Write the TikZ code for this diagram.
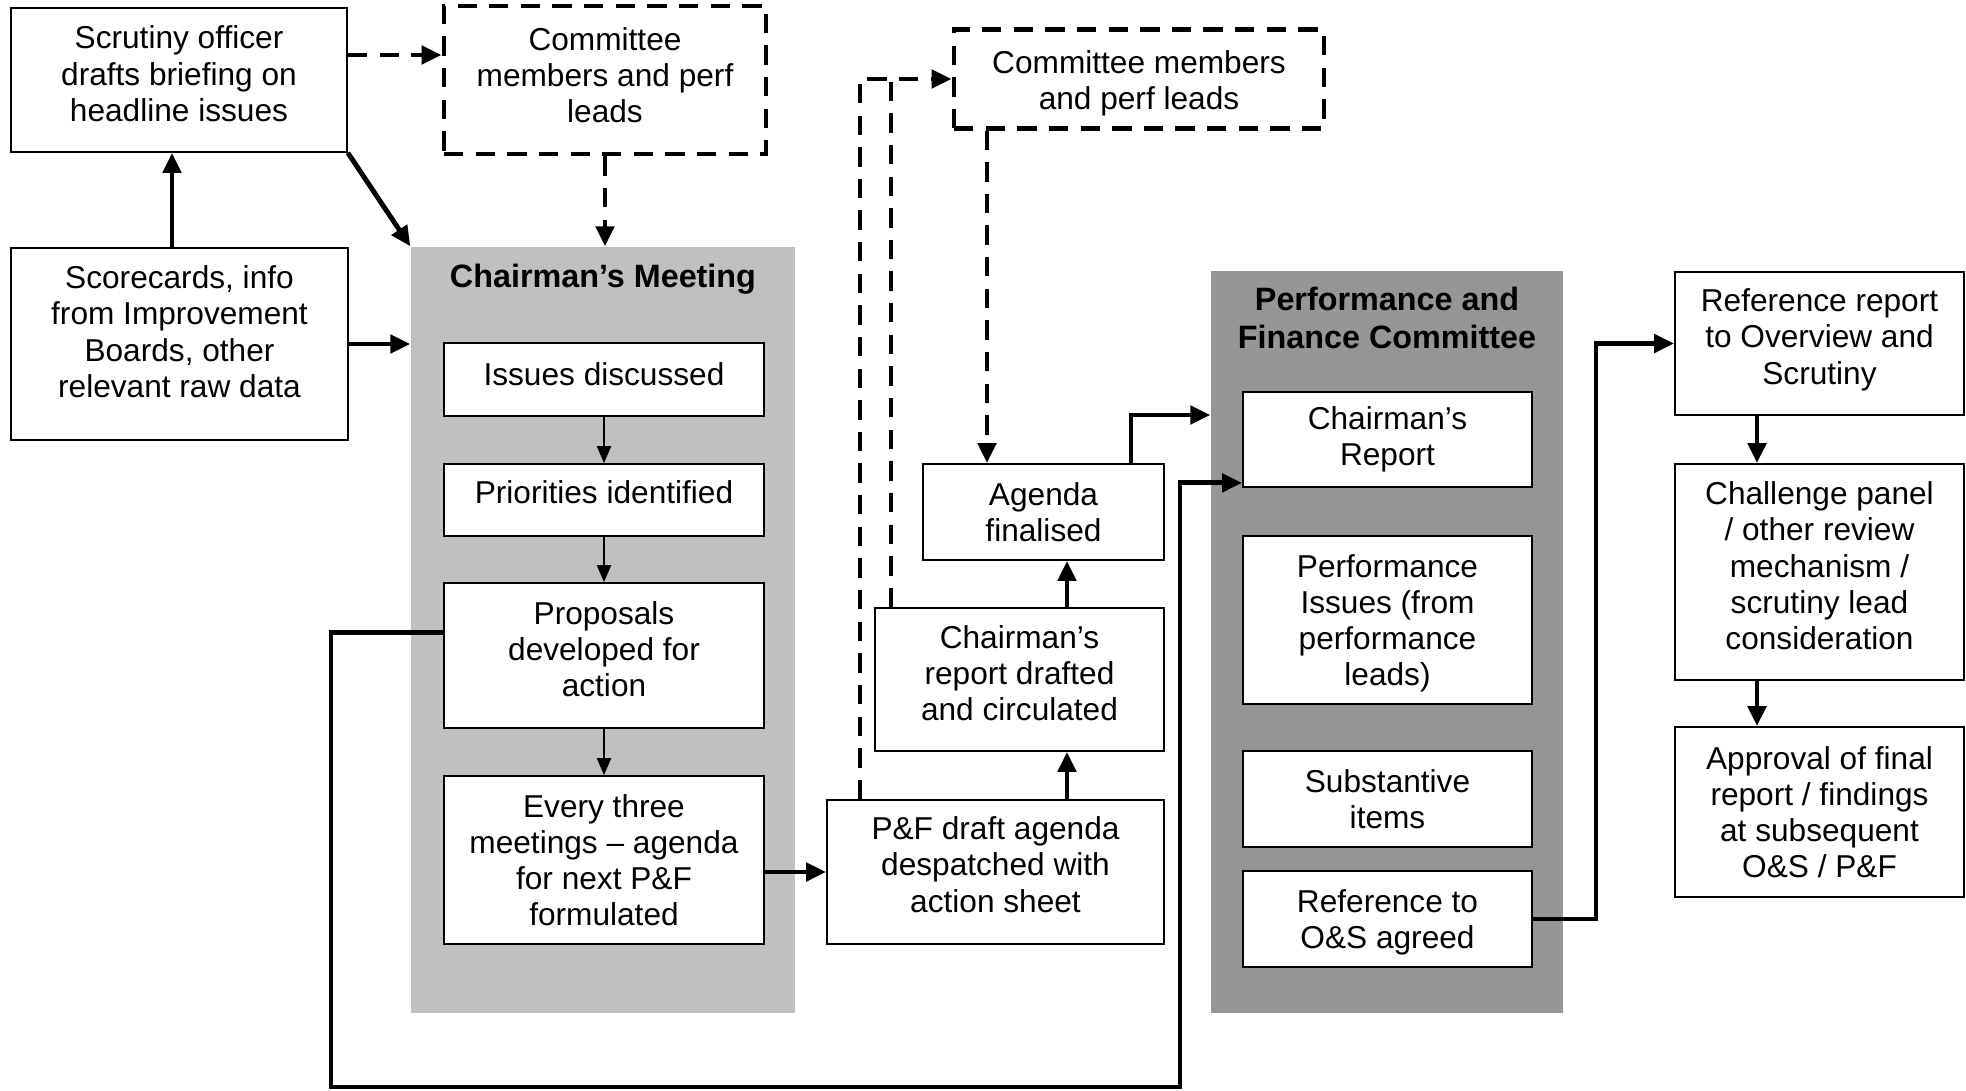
\documentclass[tikz,border=0pt]{standalone}
\usepackage{fontspec}
\setmainfont{Liberation Sans}
\usetikzlibrary{arrows.meta}

\definecolor{meetgrey}{HTML}{C0C0C0}
\definecolor{pfcgrey}{HTML}{969696}

\tikzset{
    box/.style={draw=black, line width=0.5pt, fill=white, align=center, inner sep=2pt},
    dashbox/.style={draw=black, line width=1.4pt, dash pattern=on 5.5pt off 3.5pt, align=center},
    panel/.style={fill=#1, draw=none, inner sep=0pt},
    paneltitle/.style={font=\fontsize{9.2}{10.7}\selectfont\bfseries, align=center},
    lift/.style={text depth=#1},
    thickarrow/.style={line width=1.4pt, -{Triangle[length=2mm,width=1.8mm]}},
    dasharrow/.style={thickarrow, dash pattern=on 5.5pt off 3.5pt},
    dashline/.style={line width=1.4pt, dash pattern=on 5.5pt off 3.5pt},
    thinarrow/.style={line width=0.6pt, -{Triangle[length=1.7mm,width=1.4mm]}}
}

\begin{document}
\begin{tikzpicture}[x=1cm, y=-1cm, font=\fontsize{9}{10.3}\selectfont]
        \useasboundingbox (0,0) rectangle (19.66,10.90);

        % shaded panels
        \node[panel=meetgrey, minimum width=3.84cm, minimum height=7.66cm] (meet) at (6.03,6.30) {};
        \node[panel=pfcgrey, minimum width=3.52cm, minimum height=7.42cm] (pfc) at (13.87,6.42) {};
        \node[paneltitle] (meettitle) at (6.03,2.79) {Chairman’s Meeting};
        \node[paneltitle] (pfctitle) at (13.87,3.18) {Performance and\\Finance Committee};

        % left inputs
        \node[box, lift=3.6pt, minimum width=3.36cm, minimum height=1.44cm] (scrut) at (1.79,0.80) {Scrutiny officer\\drafts briefing on\\headline issues};
        \node[box, lift=7.1pt, minimum width=3.37cm, minimum height=1.92cm] (score) at (1.795,3.44) {Scorecards, info\\from Improvement\\Boards, other\\relevant raw data};
        \node[dashbox, lift=2.9pt, minimum width=3.22cm, minimum height=1.48cm] (comA) at (6.05,0.80) {Committee\\members and perf\\leads};
        \node[dashbox, text height=19.4pt, minimum width=3.70cm, minimum height=0.98cm] (comB) at (11.39,0.79) {Committee members\\and perf leads};

        % chairman's meeting
        \node[box, lift=2.9pt, minimum width=3.2cm, minimum height=0.73cm] (issues) at (6.04,3.795) {Issues discussed};
        \node[box, lift=4.3pt, minimum width=3.2cm, minimum height=0.72cm] (prio) at (6.04,5.00) {Priorities identified};
        \node[box, lift=3.6pt, minimum width=3.2cm, minimum height=1.45cm] (prop) at (6.04,6.555) {Proposals\\developed for\\action};
        \node[box, minimum width=3.2cm, minimum height=1.68cm] (every) at (6.04,8.60) {Every three\\meetings -- agenda\\for next P\&F\\formulated};

        % agenda steps
        \node[box, lift=4.3pt, minimum width=3.37cm, minimum height=1.44cm] (pfdraft) at (9.955,8.72) {P\&F draft agenda\\despatched with\\action sheet};
        \node[box, lift=3.6pt, minimum width=2.89cm, minimum height=1.43cm] (drafted) at (10.195,6.795) {Chairman’s\\report drafted\\and circulated};
        \node[box, minimum width=2.41cm, minimum height=0.96cm] (agenda) at (10.435,5.12) {Agenda\\finalised};

        % performance and finance committee
        \node[box, minimum width=2.89cm, minimum height=0.95cm] (chrep) at (13.875,4.395) {Chairman’s\\Report};
        \node[box, lift=0pt, minimum width=2.89cm, minimum height=1.68cm] (perf) at (13.875,6.20) {Performance\\Issues (from\\performance\\leads)};
        \node[box, minimum width=2.89cm, minimum height=0.96cm] (subst) at (13.875,7.99) {Substantive\\items};
        \node[box, lift=0pt, minimum width=2.89cm, minimum height=0.96cm] (refos) at (13.875,9.19) {Reference to\\O\&S agreed};

        % overview and scrutiny
        \node[box, lift=4pt, minimum width=2.89cm, minimum height=1.43cm] (refrep) at (18.195,3.435) {Reference report\\to Overview and\\Scrutiny};
        \node[box, lift=3.6pt, minimum width=2.89cm, minimum height=2.16cm] (chall) at (18.195,5.72) {Challenge panel\\/ other review\\mechanism /\\scrutiny lead\\consideration};
        \node[box, minimum width=2.89cm, minimum height=1.70cm] (appr) at (18.195,8.12) {Approval of final\\report / findings\\at subsequent\\O\&S / P\&F};

        % turning points
        \coordinate (outer) at (8.60,0);
        \coordinate (inner) at (8.91,0);
        \coordinate (down) at (9.87,0);
        \coordinate (up) at (10.67,0);
        \coordinate (rise) at (11.31,4.15);
        \coordinate (feed) at (1.72,0);
        \coordinate (loopL) at (3.31,10.87);
        \coordinate (loopR) at (11.80,10.87);
        \coordinate (side) at (15.96,0);
        \coordinate (col) at (17.57,0);

        % dashed links
        \draw[dasharrow] ([yshift=2.5mm]scrut.east) -- ([yshift=2.5mm]comA.west);
        \draw[dasharrow] (comA.south) -- (comA.south |- meet.north);
        \draw[dasharrow] (pfdraft.north -| outer) |- (comB.west);
        \draw[dashline] (drafted.north -| inner) -- (inner |- comB.west);
        \draw[dasharrow] (comB.south -| down) -- (agenda.north -| down);

        % inputs to the meeting
        \draw[thickarrow] (score.north -| feed) -- (scrut.south -| feed);
        \draw[thickarrow] (scrut.south east) -- (meet.north west);
        \draw[thickarrow] (score.east) -- (score.east -| meet.west);

        % steps in the meeting
        \foreach \a/\b in {issues/prio, prio/prop, prop/every}
            \draw[thinarrow] (\a) -- (\b);

        % agenda steps
        \draw[thickarrow] (every.east |- pfdraft.west) -- (pfdraft.west);
        \draw[thickarrow] (pfdraft.north -| up) -- (drafted.south -| up);
        \draw[thickarrow] (drafted.north -| up) -- (agenda.south -| up);
        \draw[thickarrow] (agenda.north -| rise) |- (pfc.west |- rise);

        % loop back to the report
        \draw[thickarrow] ([yshift=2.3mm]prop.west) -| (loopL) -- (loopR) |- ([yshift=0.5mm]chrep.south west);

        % on to overview and scrutiny
        \draw[thickarrow] (refos.east) -| (side |- refrep.west) -- (refrep.west);
        \draw[thickarrow] (refrep.south -| col) -- (chall.north -| col);
        \draw[thickarrow] (chall.south -| col) -- (appr.north -| col);
    \end{tikzpicture}
\end{document}
